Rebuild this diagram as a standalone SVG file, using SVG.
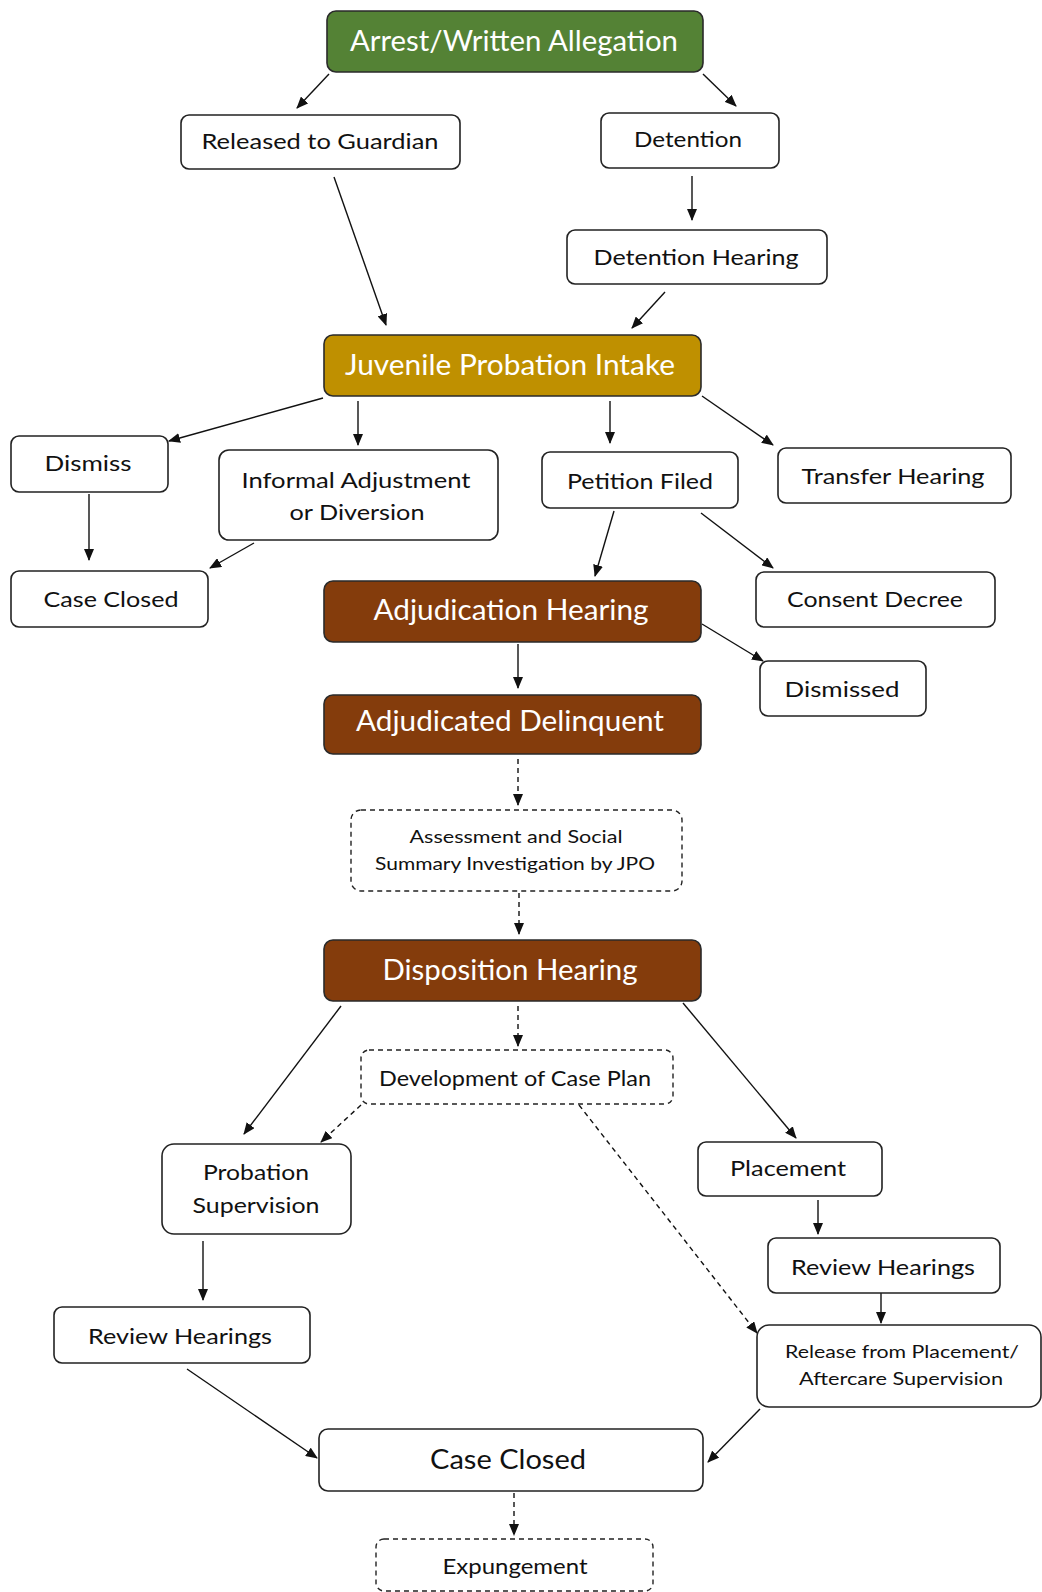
<svg xmlns="http://www.w3.org/2000/svg" width="1042" height="1592" viewBox="0 0 1042 1592">
<style>
.b{fill:#fff;stroke:#222;stroke-width:1.6}
.d{fill:#fff;stroke:#222;stroke-width:1.4;stroke-dasharray:5,4}
.g{fill:#548235;stroke:#2a2a2a;stroke-width:1.6}
.o{fill:#BF9000;stroke:#2a2a2a;stroke-width:1.6}
.r{fill:#843C0C;stroke:#2a2a2a;stroke-width:1.6}
text{font-family:Lato,"Liberation Sans",sans-serif;text-anchor:middle;fill:#111}
.w{fill:#fff;font-size:28px}
.t{font-size:22px}
.s{font-size:18px}
.c line{stroke:#111;stroke-width:1.4;marker-end:url(#a)}
.c .ds{stroke-dasharray:5,4}
</style>
<defs>
<marker id="a" viewBox="0 0 12 10" refX="11" refY="5" markerWidth="12" markerHeight="10" markerUnits="userSpaceOnUse" orient="auto">
<path d="M0,0 L12,5 L0,10 z" fill="#111"/>
</marker>
</defs>
<rect width="1042" height="1592" fill="#fff"/>
<g class="c">
<line x1="329" y1="74" x2="297" y2="108"/>
<line x1="703" y1="74" x2="736" y2="106"/>
<line x1="334" y1="177" x2="386" y2="325"/>
<line x1="692" y1="176" x2="692" y2="220"/>
<line x1="665" y1="292" x2="632" y2="328"/>
<line x1="323" y1="398" x2="169" y2="441"/>
<line x1="358" y1="401" x2="358" y2="445"/>
<line x1="610" y1="401" x2="610" y2="443"/>
<line x1="702" y1="396" x2="773" y2="445"/>
<line x1="89" y1="494" x2="89" y2="560"/>
<line x1="254" y1="543" x2="210" y2="568"/>
<line x1="614" y1="511" x2="595" y2="576"/>
<line x1="701" y1="513" x2="773" y2="568"/>
<line x1="702" y1="624" x2="763" y2="661"/>
<line x1="518" y1="644" x2="518" y2="688"/>
<line class="ds" x1="518" y1="759" x2="518" y2="805"/>
<line class="ds" x1="519" y1="893" x2="519" y2="934"/>
<line class="ds" x1="518" y1="1006" x2="518" y2="1046"/>
<line x1="341" y1="1006" x2="244" y2="1134"/>
<line class="ds" x1="361" y1="1105" x2="321" y2="1142"/>
<line class="ds" x1="579" y1="1105" x2="757" y2="1333"/>
<line x1="683" y1="1003" x2="796" y2="1138"/>
<line x1="818" y1="1200" x2="818" y2="1234"/>
<line x1="881" y1="1293" x2="881" y2="1323"/>
<line x1="203" y1="1241" x2="203" y2="1300"/>
<line x1="187" y1="1369" x2="317" y2="1458"/>
<line x1="760" y1="1409" x2="708" y2="1462"/>
<line class="ds" x1="514" y1="1493" x2="514" y2="1535"/>
</g>
<g id="arrest"><rect class="g" x="327" y="11" width="376" height="61" rx="9"/><text class="w" x="514" y="51" textLength="328" lengthAdjust="spacingAndGlyphs">Arrest/Written Allegation</text></g>
<g id="released"><rect class="b" x="181" y="115" width="279" height="54" rx="8"/><text class="t" x="320" y="149" textLength="237" lengthAdjust="spacingAndGlyphs">Released to Guardian</text></g>
<g id="detention"><rect class="b" x="601" y="113" width="178" height="55" rx="8"/><text class="t" x="688" y="147" textLength="108" lengthAdjust="spacingAndGlyphs">Detention</text></g>
<g id="detention-hearing"><rect class="b" x="567" y="230" width="260" height="54" rx="8"/><text class="t" x="696" y="265" textLength="205" lengthAdjust="spacingAndGlyphs">Detention Hearing</text></g>
<g id="intake"><rect class="o" x="324" y="335" width="377" height="61" rx="9"/><text class="w" x="510" y="375" textLength="330" lengthAdjust="spacingAndGlyphs">Juvenile Probation Intake</text></g>
<g id="dismiss"><rect class="b" x="11" y="436" width="157" height="56" rx="8"/><text class="t" x="88" y="471" textLength="87" lengthAdjust="spacingAndGlyphs">Dismiss</text></g>
<g id="informal"><rect class="b" x="219" y="450" width="279" height="90" rx="10"/><text class="t" x="356" y="488" textLength="229" lengthAdjust="spacingAndGlyphs">Informal Adjustment</text><text class="t" x="357" y="520" textLength="135" lengthAdjust="spacingAndGlyphs">or Diversion</text></g>
<g id="petition"><rect class="b" x="542" y="452" width="196" height="56" rx="8"/><text class="t" x="640" y="489" textLength="146" lengthAdjust="spacingAndGlyphs">Petition Filed</text></g>
<g id="transfer"><rect class="b" x="778" y="448" width="233" height="55" rx="8"/><text class="t" x="893" y="484" textLength="183" lengthAdjust="spacingAndGlyphs">Transfer Hearing</text></g>
<g id="case-closed-1"><rect class="b" x="11" y="571" width="197" height="56" rx="8"/><text class="t" x="111" y="607" textLength="135" lengthAdjust="spacingAndGlyphs">Case Closed</text></g>
<g id="adjudication"><rect class="r" x="324" y="581" width="377" height="61" rx="9"/><text class="w" x="511" y="620" textLength="275" lengthAdjust="spacingAndGlyphs">Adjudication Hearing</text></g>
<g id="consent"><rect class="b" x="756" y="572" width="239" height="55" rx="8"/><text class="t" x="875" y="607" textLength="176" lengthAdjust="spacingAndGlyphs">Consent Decree</text></g>
<g id="dismissed"><rect class="b" x="760" y="661" width="166" height="55" rx="8"/><text class="t" x="842" y="697" textLength="115" lengthAdjust="spacingAndGlyphs">Dismissed</text></g>
<g id="delinquent"><rect class="r" x="324" y="695" width="377" height="59" rx="9"/><text class="w" x="510" y="731" textLength="308" lengthAdjust="spacingAndGlyphs">Adjudicated Delinquent</text></g>
<g id="assessment"><rect class="d" x="351" y="810" width="331" height="81" rx="10"/><text class="s" x="516" y="843" textLength="213" lengthAdjust="spacingAndGlyphs">Assessment and Social</text><text class="s" x="515" y="870" textLength="280" lengthAdjust="spacingAndGlyphs">Summary Investigation by JPO</text></g>
<g id="disposition"><rect class="r" x="324" y="940" width="377" height="61" rx="9"/><text class="w" x="510" y="980" textLength="255" lengthAdjust="spacingAndGlyphs">Disposition Hearing</text></g>
<g id="case-plan"><rect class="d" x="361" y="1050" width="312" height="54" rx="8"/><text class="t" x="515" y="1086" textLength="272" lengthAdjust="spacingAndGlyphs">Development of Case Plan</text></g>
<g id="probation"><rect class="b" x="162" y="1144" width="189" height="90" rx="12"/><text class="t" x="256" y="1180" textLength="106" lengthAdjust="spacingAndGlyphs">Probation</text><text class="t" x="256" y="1213" textLength="127" lengthAdjust="spacingAndGlyphs">Supervision</text></g>
<g id="placement"><rect class="b" x="698" y="1142" width="184" height="54" rx="8"/><text class="t" x="788" y="1176" textLength="116" lengthAdjust="spacingAndGlyphs">Placement</text></g>
<g id="review-right"><rect class="b" x="768" y="1238" width="232" height="55" rx="8"/><text class="t" x="883" y="1275" textLength="184" lengthAdjust="spacingAndGlyphs">Review Hearings</text></g>
<g id="review-left"><rect class="b" x="54" y="1307" width="256" height="56" rx="8"/><text class="t" x="180" y="1344" textLength="184" lengthAdjust="spacingAndGlyphs">Review Hearings</text></g>
<g id="release"><rect class="b" x="757" y="1325" width="284" height="82" rx="12"/><text class="s" x="902" y="1358" textLength="234" lengthAdjust="spacingAndGlyphs">Release from Placement/</text><text class="s" x="901" y="1385" textLength="204" lengthAdjust="spacingAndGlyphs">Aftercare Supervision</text></g>
<g id="case-closed-2"><rect class="b" x="319" y="1429" width="384" height="62" rx="9"/><text x="508" y="1469" font-size="27" textLength="156" lengthAdjust="spacingAndGlyphs">Case Closed</text></g>
<g id="expungement"><rect class="d" x="376" y="1539" width="277" height="52" rx="8"/><text class="t" x="515" y="1574" textLength="145" lengthAdjust="spacingAndGlyphs">Expungement</text></g>
</svg>
